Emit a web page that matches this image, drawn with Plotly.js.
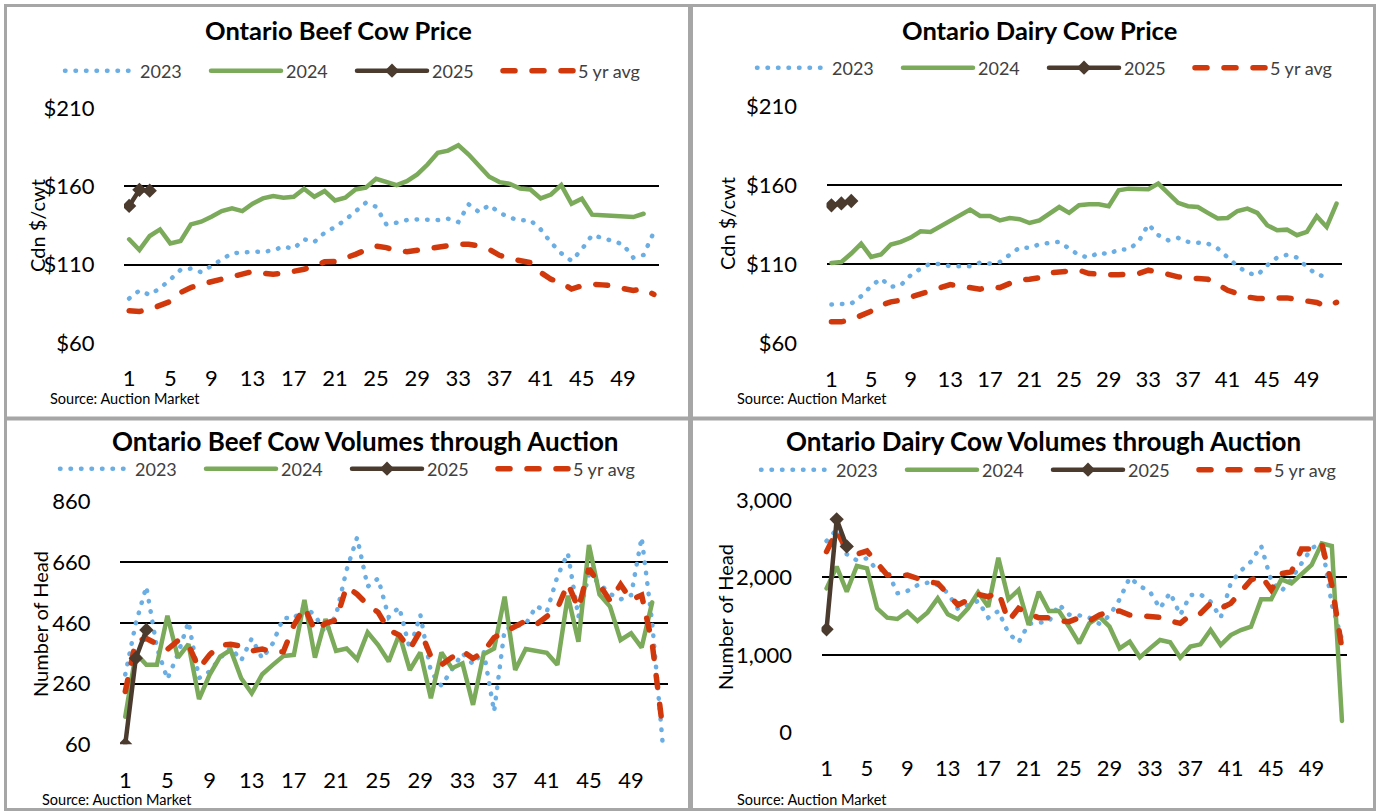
<!DOCTYPE html>
<html>
<head>
<meta charset="utf-8">
<script src="https://cdn.plot.ly/plotly-3.0.1.min.js"></script>
<style>
html,body{margin:0;padding:0;background:#fff;}
#chart{width:1378px;height:812px;}
#chart path.js-line{stroke-linecap:round;}
</style>
</head>
<body>
<div id="chart"></div>
<script>
// ---------- DATA ----------
const weeks = Array.from({length: 52}, (_, i) => i + 1);
const weekTicks = [1, 5, 9, 13, 17, 21, 25, 29, 33, 37, 41, 45, 49];
const seriesNames = ['2023', '2024', '2025', '5 yr avg'];

const beefPrice2023 = [88.4, 93.5, 90.7, 95.0, 100.5, 106.7, 107.5, 105.2, 109.2, 113.4, 117.3, 117.7, 118.3, 118.1, 119.2, 121.5, 120.2, 126.2, 124.5, 130.4, 134.0, 138.5, 144.2, 149.5, 147.0, 135.7, 136.8, 138.5, 138.9, 138.9, 138.5, 139.3, 137.2, 148.5, 143.6, 148.0, 143.2, 140.0, 138.3, 138.3, 132.5, 124.1, 117.3, 112.4, 119.8, 128.9, 127.2, 125.1, 123.0, 114.5, 116.2, 130.8];
const beefPrice2024 = [126.2, 119.4, 128.3, 132.5, 123.6, 125.1, 135.7, 137.4, 140.6, 144.2, 145.9, 144.2, 148.9, 152.3, 153.8, 152.7, 153.3, 158.4, 153.3, 157.0, 151.0, 152.7, 158.0, 159.1, 164.8, 162.7, 160.8, 163.3, 167.6, 173.9, 181.4, 182.8, 186.2, 180.3, 173.3, 166.1, 162.7, 161.6, 158.6, 158.0, 152.3, 154.8, 160.8, 148.9, 152.1, 141.9, 141.5, 141.0, 141.0, 140.4, 142.5, null];
const beefPrice2025 = [147.5, 157.8, 157.2];
const beefPriceAvg = [80.6, 80.1, 81.5, 83.7, 86.5, 92.2, 95.4, 97.5, 99.0, 100.7, 102.4, 104.3, 105.6, 104.5, 103.9, 104.5, 105.6, 107.1, 109.2, 111.8, 112.0, 113.9, 116.6, 119.4, 121.9, 120.9, 118.8, 118.3, 119.4, 119.8, 120.9, 122.6, 123.0, 123.0, 121.9, 119.8, 116.0, 113.9, 113.0, 111.3, 105.0, 100.7, 98.6, 94.4, 96.5, 97.5, 97.1, 96.5, 94.8, 93.5, 94.5, 91.0];

const dairyPrice2023 = [84.6, 85.2, 85.2, 89.9, 96.2, 101.0, 95.8, 96.8, 103.1, 107.3, 110.5, 110.1, 108.8, 108.8, 108.8, 111.1, 110.5, 111.5, 116.2, 120.6, 120.4, 122.7, 123.5, 124.2, 120.0, 115.7, 114.3, 117.4, 116.4, 119.5, 119.3, 124.2, 135.3, 128.4, 125.2, 126.7, 124.2, 123.5, 123.1, 120.0, 114.7, 108.8, 104.6, 103.1, 109.4, 114.3, 116.0, 114.3, 108.4, 103.5, 102.1, null];
const dairyPrice2024 = [110.9, 111.5, 116.8, 123.1, 114.7, 116.2, 122.5, 124.2, 126.9, 130.9, 130.5, 134.0, 137.2, 140.4, 144.6, 140.6, 140.6, 137.8, 139.3, 138.5, 136.1, 137.8, 142.0, 146.2, 142.5, 147.3, 147.9, 147.9, 146.7, 156.8, 157.8, 157.4, 157.4, 161.0, 154.7, 148.8, 146.7, 146.2, 142.5, 138.9, 139.3, 143.7, 145.2, 142.5, 134.7, 131.5, 131.9, 128.4, 130.5, 140.4, 133.6, 148.4];
const dairyPrice2025 = [147.3, 148.5, 150.0];
const dairyPriceAvg = [73.7, 73.7, 75.1, 77.9, 80.4, 84.2, 86.3, 87.3, 89.4, 91.5, 93.0, 95.3, 97.2, 96.2, 95.3, 94.3, 95.7, 95.3, 97.9, 100.0, 100.6, 101.6, 104.6, 105.2, 105.2, 106.3, 104.2, 103.5, 103.5, 103.5, 103.5, 104.2, 106.3, 105.2, 103.7, 102.1, 101.0, 101.0, 100.6, 97.4, 93.6, 91.5, 89.4, 88.4, 88.4, 89.0, 88.8, 87.8, 86.9, 85.9, 83.5, 86.0];

const beefVol2023 = [290, 459, 580, 379, 275, 358, 464, 278, 300, 344, 380, 336, 409, 343, 393, 477, 475, 513, 486, 426, 486, 635, 742, 580, 607, 479, 512, 374, 487, 300, 253, 310, 360, 324, 368, 168, 439, 449, 456, 516, 497, 613, 690, 480, 620, 590, 556, 538, 552, 742, 461, 60];
const beefVol2024 = [151, 360, 322, 322, 484, 346, 390, 209, 289, 349, 371, 278, 228, 291, 322, 351, 355, 536, 346, 473, 368, 376, 340, 429, 387, 333, 423, 305, 363, 212, 363, 311, 327, 190, 357, 376, 547, 305, 374, 369, 362, 322, 550, 398, 717, 554, 514, 404, 426, 379, 528, null];
const beefVol2025 = [60, 344, 437];
const beefVolAvg = [234, 400, 409, 393, 373, 402, 387, 310, 355, 387, 390, 384, 368, 374, 365, 365, 453, 512, 434, 459, 470, 580, 555, 520, 495, 437, 420, 374, 434, 350, 322, 347, 368, 343, 365, 412, 429, 448, 467, 455, 480, 508, 590, 508, 640, 587, 533, 587, 536, 552, 393, 110];

const dairyVol2023 = [2470, 2620, 2300, 2220, 2247, 2096, 2096, 1795, 1825, 1900, 1932, 1902, 1800, 1592, 1644, 1696, 1480, 1566, 1280, 1160, 1400, 1420, 1430, 1650, 1520, 1510, 1480, 1400, 1506, 1717, 1997, 1889, 1816, 1601, 1803, 1515, 1773, 1782, 1687, 1480, 1928, 2087, 2204, 2410, 1960, 1820, 1980, 2182, 2376, 2449, 1650, 1200];
const dairyVol2024 = [1859, 2139, 1816, 2148, 2117, 1601, 1480, 1463, 1558, 1437, 1549, 1730, 1523, 1459, 1601, 1808, 1622, 2255, 1717, 1838, 1386, 1816, 1566, 1566, 1364, 1149, 1407, 1493, 1364, 1084, 1170, 968, 1084, 1192, 1162, 964, 1106, 1136, 1321, 1127, 1256, 1321, 1364, 1717, 1717, 1975, 1924, 2040, 2161, 2440, 2406, 146];
const dairyVol2025 = [1330, 2750, 2400];
const dairyVolAvg = [2333, 2600, 2354, 2300, 2341, 2182, 2031, 2023, 2031, 1988, 1945, 1924, 1782, 1644, 1709, 1782, 1750, 1816, 1437, 1601, 1530, 1480, 1480, 1437, 1429, 1480, 1437, 1515, 1560, 1566, 1515, 1506, 1502, 1485, 1437, 1407, 1515, 1536, 1665, 1600, 1665, 1816, 1967, 2023, 1840, 2049, 2074, 2367, 2367, 2440, 1900, 1080];

const panelTitles = ['Ontario Beef Cow Price', 'Ontario Dairy Cow Price', 'Ontario Beef Cow Volumes through Auction', 'Ontario Dairy Cow Volumes through Auction'];
const yTitles = ['Cdn $/cwt', 'Cdn $/cwt', 'Number of Head', 'Number of Head'];
const priceTicks = [60, 110, 160, 210];
const priceTickText = ['$60', '$110', '$160', '$210'];
const beefVolTicks = [60, 260, 460, 660, 860];
const beefVolTickText = ['60', '260', '460', '660', '860'];
const dairyVolTicks = [0, 1000, 2000, 3000];
const dairyVolTickText = ['0', '1,000', '2,000', '3,000'];
const sourceText = 'Source: Auction Market';

// ---------- STYLE ----------
const W = 1378, H = 812;
const FONT = 'Lato, "Open Sans", sans-serif';
const colors = {c2023: '#6AAEE3', c2024: '#7BAA5B', c2025: '#4B3A2E', cavg: '#D1390D'};
const px = v => v / W;
const py = v => 1 - v / H;

const panels = [
  {data: [beefPrice2023, beefPrice2024, beefPrice2025, beefPriceAvg], xd: [124, 659], yd: [108, 343], range: [60, 210], ticks: priceTicks, tickText: priceTickText, title: [338, 30], legend: [60, 71], source: [48, 398], ytitle: [37, 226], tsize: 25.5},
  {data: [dairyPrice2023, dairyPrice2024, dairyPrice2025, dairyPriceAvg], xd: [826.5, 1341.5], yd: [106, 343.5], range: [60, 210], ticks: priceTicks, tickText: priceTickText, title: [1039, 30], legend: [752, 68], source: [735, 398], ytitle: [727, 224], tsize: 25.5},
  {data: [beefVol2023, beefVol2024, beefVol2025, beefVolAvg], xd: [120, 668], yd: [501.7, 744.3], range: [60, 860], ticks: beefVolTicks, tickText: beefVolTickText, title: [365, 441], legend: [55, 469], source: [40, 799], ytitle: [40, 624], tsize: 26},
  {data: [dairyVol2023, dairyVol2024, dairyVol2025, dairyVolAvg], xd: [821.5, 1347], yd: [500, 732.3], range: [0, 3000], ticks: dairyVolTicks, tickText: dairyVolTickText, title: [1043, 441], legend: [756, 470], source: [735, 799], ytitle: [725, 617], tsize: 26}
];

const traces = [];
const layout = {
  width: W, height: H,
  margin: {l: 0, r: 0, t: 0, b: 0},
  paper_bgcolor: '#ffffff', plot_bgcolor: '#ffffff',
  font: {family: FONT, color: '#000000'},
  annotations: [], shapes: []
};

panels.forEach((p, i) => {
  const n = i === 0 ? '' : String(i + 1);
  const xa = 'x' + n, ya = 'y' + n, lg = 'legend' + n;
  const styles = [
    {mode: 'lines', line: {color: colors.c2023, width: 4.5, dash: '0.5px,10px'}, rank: 1},
    {mode: 'lines', line: {color: colors.c2024, width: 4.5}, rank: 2},
    {mode: 'lines+markers', line: {color: colors.c2025, width: 4.5}, marker: {symbol: 'diamond', size: 11, color: colors.c2025}, rank: 3},
    {mode: 'lines', line: {color: colors.cavg, width: 5.5, dash: '12px,17px'}, rank: 4}
  ];
  const drawOrder = [0, 1, 3, 2];
  drawOrder.forEach(k => {
    const vals = p.data[k];
    const t = {
      type: 'scatter', x: weeks.slice(0, vals.length), y: vals,
      name: seriesNames[k], mode: styles[k].mode, line: styles[k].line,
      xaxis: xa, yaxis: ya, legend: lg, legendrank: styles[k].rank,
      hoverinfo: 'x+y+name', connectgaps: false
    };
    if (styles[k].marker) t.marker = styles[k].marker;
    traces.push(t);
  });

  layout['xaxis' + n] = {
    domain: [px(p.xd[0]), px(p.xd[1])], anchor: ya, range: [0.5, 52.5],
    tickmode: 'array', tickvals: weekTicks, ticks: 'outside', ticklen: 16, tickcolor: 'rgba(0,0,0,0)',
    showgrid: false, zeroline: false, showline: false, fixedrange: true,
    tickfont: {family: FONT, size: 22, color: '#000000'}
  };
  layout['yaxis' + n] = {
    domain: [py(p.yd[1]), py(p.yd[0])], anchor: xa, range: p.range,
    tickmode: 'array', tickvals: p.ticks, ticktext: p.tickText,
    ticks: 'outside', ticklen: 24, tickcolor: 'rgba(0,0,0,0)',
    showgrid: true, gridcolor: '#000000', gridwidth: 2, zeroline: false, showline: false, fixedrange: true,
    tickfont: {family: FONT, size: 22, color: '#000000'}
  };
  layout[lg] = {
    x: px(p.legend[0]), y: py(p.legend[1]), xanchor: 'left', yanchor: 'middle',
    orientation: 'h', entrywidth: 61, entrywidthmode: 'pixels', itemwidth: 70,
    bgcolor: 'rgba(0,0,0,0)', borderwidth: 0,
    font: {family: FONT, size: 18, color: '#404040'}
  };
  layout.annotations.push({
    text: panelTitles[i], xref: 'paper', yref: 'paper', x: px(p.title[0]), y: py(p.title[1]),
    xanchor: 'center', yanchor: 'middle', showarrow: false,
    font: {family: FONT, size: p.tsize, color: '#000000', weight: 700}
  });
  layout.annotations.push({
    text: yTitles[i], xref: 'paper', yref: 'paper', x: px(p.ytitle[0]), y: py(p.ytitle[1]),
    xanchor: 'center', yanchor: 'middle', showarrow: false, textangle: -90,
    font: {family: FONT, size: 20, color: '#000000'}
  });
  layout.annotations.push({
    text: sourceText, xref: 'paper', yref: 'paper', x: px(p.source[0]), y: py(p.source[1]),
    xanchor: 'left', yanchor: 'middle', showarrow: false,
    font: {family: FONT, size: 14.5, color: '#000000'}
  });
});

// panel frames
const frameColor = '#A6A6A6';
const frameLines = [
  [4, 5.5, 1376, 5.5, 3], [4, 809.5, 1376, 809.5, 3],
  [5.5, 4, 5.5, 811, 3], [1374.5, 4, 1374.5, 811, 3],
  [690.5, 4, 690.5, 811, 5], [4, 418.5, 1376, 418.5, 4]
];
frameLines.forEach(f => layout.shapes.push({
  type: 'line', xref: 'paper', yref: 'paper', x0: px(f[0]), y0: py(f[1]), x1: px(f[2]), y1: py(f[3]),
  line: {color: frameColor, width: f[4]}, layer: 'above'
}));

Plotly.newPlot('chart', traces, layout, {displayModeBar: false, responsive: false});
</script>
</body>
</html>
